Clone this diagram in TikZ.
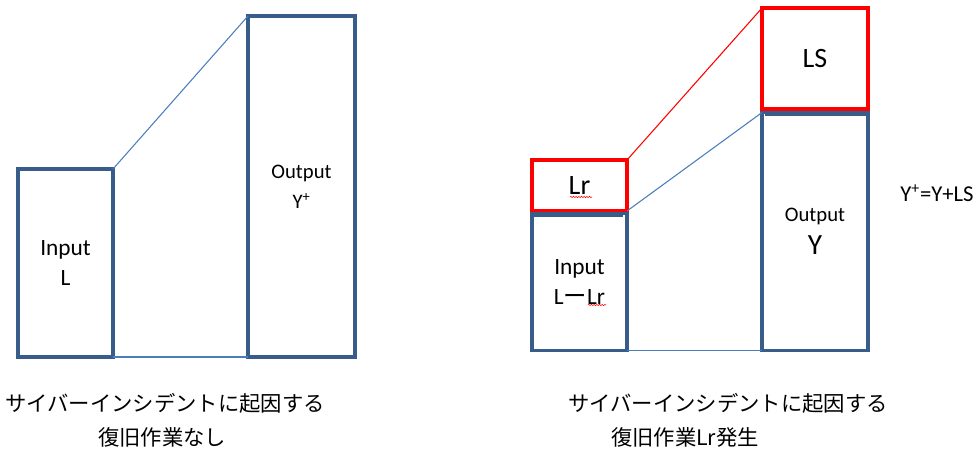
\documentclass[tikz,border=0pt]{standalone}
\usepackage{fontspec}
\setmainfont{Carlito}
\newfontfamily\cjk{Noto Sans CJK JP}
\usetikzlibrary{calc,decorations.pathmorphing}
\definecolor{boxblue}{RGB}{56,93,138}
\definecolor{linkblue}{RGB}{74,126,187}
\newcommand{\fsz}[2]{\fontsize{#1}{#2}\selectfont}
\tikzset{
  blkbox/.style={draw=boxblue,line width=2.4pt,outer sep=0pt,inner sep=0pt,
    align=center},
  redbox/.style={draw=red,line width=2.4pt,outer sep=0pt,inner sep=0pt,
    align=center},
  link/.style={draw=linkblue,line width=0.8pt},
  redlink/.style={draw=red,line width=0.8pt},
  topbar/.style={draw=boxblue,line width=3pt},
  spell/.style={draw=red,line width=0.4pt,decorate,
    decoration={snake,segment length=2pt,amplitude=0.5pt}},
  eqn/.style={font=\fsz{17}{18},inner sep=0pt},
  captxt/.style={font=\cjk\fsz{16}{18},inner sep=0pt},
}
\begin{document}
\begin{tikzpicture}[x=0.75pt,y=-0.75pt]
  \useasboundingbox (0,0) rectangle (977,450);
  % without recovery work
  \node[blkbox,minimum width=71.25pt,minimum height=141pt,font=\fsz{17.5}{22.5}]
    (inL) at (65.5,263) {Input\\L};
  \node[blkbox,minimum width=80.25pt,minimum height=255.75pt,font=\fsz{15.5}{22.5}]
    (outL) at (301.5,186.5) {Output\\Y\textsuperscript{+}};
  \draw[link] (inL.north east) -- (outL.north west);
  \draw[link] (inL.south east) -- (outL.south west);
  % with recovery work Lr
  \node[redbox,minimum width=71.25pt,minimum height=38.25pt,font=\fsz{21}{22}]
    (lr) at (579.5,185.5) {Lr};
  \node[blkbox,minimum width=71.25pt,minimum height=102.75pt,font=\fsz{17.5}{22}]
    (inR) at (579.5,282) {Input\\L{\cjk ー}Lr};
  \node[redbox,minimum width=79.5pt,minimum height=75.75pt,font=\fsz{21}{22}]
    (ls) at (815,58.5) {LS};
  \node[blkbox,minimum width=79.5pt,minimum height=178.5pt,font=\fsz{22}{25}]
    (outR) at (815,231.5) {{\fsz{15.5}{25}Output}\\Y};
  \draw[topbar] ($(inR.north west)+(-2,1)$) -- ($(inR.north east)+(-4,1)$);
  \draw[topbar] ($(outR.north west)+(3,1)$) -- ($(outR.north east)+(-2,1)$);
  \draw[redlink] (lr.north east) -- (ls.north west);
  \draw[link] (lr.south east) -- (outR.north west);
  \draw[link] (inR.south east) -- (outR.south west);
  \draw[spell] ($(lr.center)+(-9.5,11.5)$) -- ($(lr.center)+(12.5,11.5)$);
  \draw[spell] ($(inR.center)+(8.5,23)$) -- ($(inR.center)+(26.5,23)$);
  \node[eqn] (eq) at (937,193) {Y\textsuperscript{+}=Y+LS};
  % captions
  \node[captxt] (capL1) at (165,403) {サイバーインシデントに起因する};
  \node[captxt] (capL2) at (162,437) {復旧作業なし};
  \node[captxt] (capR1) at (728,403) {サイバーインシデントに起因する};
  \node[captxt] (capR2) at (685,437) {復旧作業Lr発生};
\end{tikzpicture}
\end{document}
